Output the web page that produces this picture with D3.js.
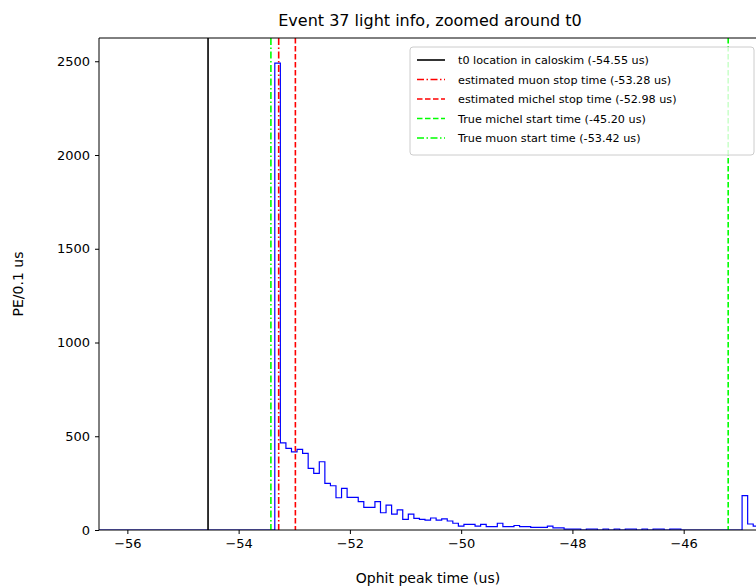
<!DOCTYPE html>
<html><head><meta charset="utf-8">
<script src="https://cdn.jsdelivr.net/npm/d3@7"></script>
<style>body{margin:0;background:#fff}text{font-family:"DejaVu Sans",sans-serif}</style>
</head><body><svg id="c" width="756" height="588"></svg>
<script>
// histogram, 0.1 us bins, first edge at -53.35
var binStart = -53.35, binWidth = 0.1;
var counts = [2490,465,435,417,430,409,329,302,364,249,236,172,222,174,174,151,121,121,151,92,133,85,107,57,85,62,57,53,64,53,59,48,36,21,30,30,21,30,18,18,36,18,
  18,24,18,18,14,14,14,21,11,11,5,5,5,0,5,5,0,5,0,5,0,5,5,0,5,0,5,5,0,5,5,
  0,0,0,0,0,0,0,0,0,0,0,183,32,21,35];
var xTicks = [-56,-54,-52,-50,-48,-46];
var yTicks = [0,500,1000,1500,2000,2500];
var markers = [
  {label:"t0 location in caloskim (-54.55 us)", t:-54.55, color:"#000", dash:null},
  {label:"estimated muon stop time (-53.28 us)", t:-53.28, color:"#ff0000", dash:"7,2.5,1.5,2.5"},
  {label:"estimated michel stop time (-52.98 us)", t:-52.98, color:"#ff0000", dash:"5.5,2.5"},
  {label:"True michel start time (-45.20 us)", t:-45.20, color:"#00ff00", dash:"5.5,2.5"},
  {label:"True muon start time (-53.42 us)", t:-53.42, color:"#00ff00", dash:"7,2.5,1.5,2.5"}
];

var svg = d3.select("#c");
var m = {l:99, t:38, b:530};
var x = d3.scaleLinear().domain([-56.51,-44.70]).range([m.l,756]);
var y = d3.scaleLinear().domain([0,2624]).range([m.b,m.t]);

svg.append("clipPath").attr("id","cp").append("rect")
  .attr("x",m.l).attr("y",m.t).attr("width",756-m.l).attr("height",m.b-m.t);
var g = svg.append("g").attr("clip-path","url(#cp)");

var pts = [[x.domain()[0],0],[binStart,0]];
counts.forEach(function(c,i){ pts.push([binStart+i*binWidth,c]); });
pts.push([binStart+counts.length*binWidth, counts[counts.length-1]]);
var line = d3.line().x(function(d){return x(d[0]);}).y(function(d){return y(d[1]);}).curve(d3.curveStepAfter);
g.append("path").attr("d",line(pts)).attr("fill","none").attr("stroke","#0000ff").attr("stroke-width",1.2);

markers.forEach(function(mk){
  g.append("line").attr("x1",x(mk.t)).attr("x2",x(mk.t)).attr("y1",m.t).attr("y2",m.b)
    .attr("stroke",mk.color).attr("stroke-width",1.6).attr("stroke-dasharray",mk.dash);
});

var xa = svg.append("g").attr("transform","translate(0,"+m.b+")")
  .call(d3.axisBottom(x).tickValues(xTicks).tickSize(4).tickPadding(5).tickFormat(function(d){return "\u2212"+Math.abs(d);}));
var ya = svg.append("g").attr("transform","translate("+m.l+",0)")
  .call(d3.axisLeft(y).tickValues(yTicks).tickSize(4).tickPadding(5).tickFormat(d3.format("d")));
[xa,ya].forEach(function(a){
  a.selectAll("text").attr("font-size",13).attr("fill","#000");
  a.select(".domain").remove();
});
svg.append("line").attr("x1",m.l).attr("x2",m.l).attr("y1",m.t).attr("y2",m.b).attr("stroke","#000");
svg.append("line").attr("x1",m.l).attr("x2",756).attr("y1",m.b).attr("y2",m.b).attr("stroke","#000");
svg.append("line").attr("x1",m.l).attr("x2",756).attr("y1",m.t).attr("y2",m.t).attr("stroke","#000");

svg.append("text").attr("x",430).attr("y",26).attr("text-anchor","middle").attr("font-size",16).text("Event 37 light info, zoomed around t0");
svg.append("text").attr("x",428).attr("y",583).attr("text-anchor","middle").attr("font-size",14).text("Ophit peak time (us)");
svg.append("text").attr("transform","translate(23,284) rotate(-90)").attr("text-anchor","middle").attr("font-size",14).text("PE/0.1 us");

var lg = svg.append("g").attr("transform","translate(410,47)");
lg.append("rect").attr("width",344).attr("height",108).attr("rx",3).attr("fill","#fff").attr("fill-opacity",0.8).attr("stroke","#ccc");
markers.forEach(function(mk,i){
  var yy = 13+i*19.5;
  lg.append("line").attr("x1",7).attr("x2",35).attr("y1",yy).attr("y2",yy)
    .attr("stroke",mk.color).attr("stroke-width",1.6).attr("stroke-dasharray",mk.dash);
  lg.append("text").attr("x",48).attr("y",yy+4).attr("font-size",11.2).text(mk.label);
});
</script></body></html>
